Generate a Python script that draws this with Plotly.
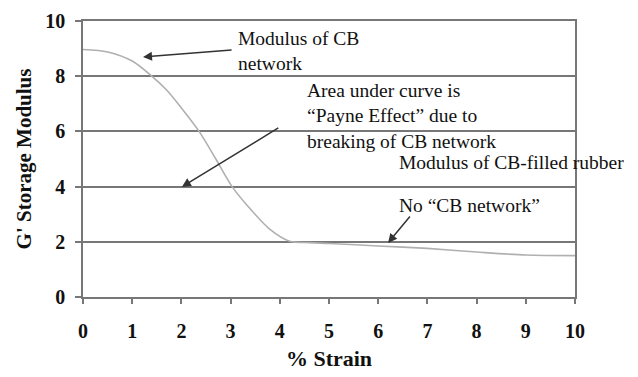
import plotly.graph_objects as go

# Data
strain = [0, 0.5, 1.0, 1.42, 1.7, 2.0, 2.36, 2.7, 3.03, 3.42, 3.8, 4.2, 4.6, 5, 6, 7, 8, 9, 10]
modulus = [8.97, 8.88, 8.55, 7.97, 7.5, 6.85, 6.0, 5.0, 4.0, 3.15, 2.45, 2.02, 1.97, 1.94, 1.85, 1.76, 1.63, 1.52, 1.5]

x_ticks = list(range(0, 11))
y_ticks = [0, 2, 4, 6, 8, 10]

serif = "Liberation Serif, Times New Roman, serif"
grid_col = "#777777"

fig = go.Figure()
fig.add_trace(go.Scatter(
    x=strain, y=modulus, mode="lines",
    line=dict(color="#b0b0b0", width=1.6, shape="spline", smoothing=0.8),
    showlegend=False, hoverinfo="skip",
))

# Text annotations
texts = [
    dict(x=3.11, y=8.91, text="Modulus of CB<br>network"),
    dict(x=4.51, y=6.56, text="Area under curve is<br>“Payne Effect” due to<br>breaking of CB network"),
    dict(x=6.38, y=4.86, text="Modulus of CB-filled rubber"),
    dict(x=6.38, y=3.33, text="No “CB network”"),
]
for t in texts:
    fig.add_annotation(x=t["x"], y=t["y"], xref="x", yref="y", text=t["text"],
                       showarrow=False, xanchor="left", yanchor="middle", align="left",
                       font=dict(family=serif, size=19.5, color="#111111"))

# Arrows (head, tail) in data coordinates
arrows = [
    ((1.22, 8.70), (3.05, 8.95)),
    ((2.01, 3.99), (4.0, 6.16)),
    ((6.2, 1.96), (6.67, 2.97)),
]
for (hx, hy), (tx, ty) in arrows:
    fig.add_annotation(x=hx, y=hy, ax=tx, ay=ty, xref="x", yref="y", axref="x", ayref="y",
                       text="", showarrow=True, arrowhead=2, arrowsize=1.2, arrowwidth=1.5,
                       arrowcolor="#333333")

fig.update_layout(
    width=630, height=369,
    margin=dict(l=75, r=63, t=13, b=80, autoexpand=False),
    paper_bgcolor="white", plot_bgcolor="white",
    font=dict(family=serif, color="#111111"),
)
fig.update_xaxes(
    range=[0, 10], tickvals=x_ticks, ticktext=[str(v) for v in x_ticks],
    showgrid=False, zeroline=False, automargin=False,
    showline=True, linecolor=grid_col, linewidth=1.5, mirror=True,
    ticks="outside", ticklen=5, tickcolor=grid_col, tickwidth=1.5,
    ticklabelstandoff=10,
    tickfont=dict(family=serif, size=20, color="#111111", weight="bold"),
    title=dict(text="<b>% Strain</b>", font=dict(family=serif, size=22, color="#111111"), standoff=10),
)
fig.update_yaxes(
    range=[0, 10], tickvals=y_ticks, ticktext=[str(v) for v in y_ticks],
    showgrid=True, gridcolor=grid_col, gridwidth=1.5, zeroline=False, automargin=False,
    showline=True, linecolor=grid_col, linewidth=1.5, mirror=True,
    ticks="outside", ticklen=6, tickcolor=grid_col, tickwidth=1.5,
    ticklabelstandoff=6,
    tickfont=dict(family=serif, size=20, color="#111111", weight="bold"),
    title=dict(text="<b>G' Storage Modulus</b>", font=dict(family=serif, size=21, color="#111111"), standoff=8),
)

fig.write_html("out.html")
